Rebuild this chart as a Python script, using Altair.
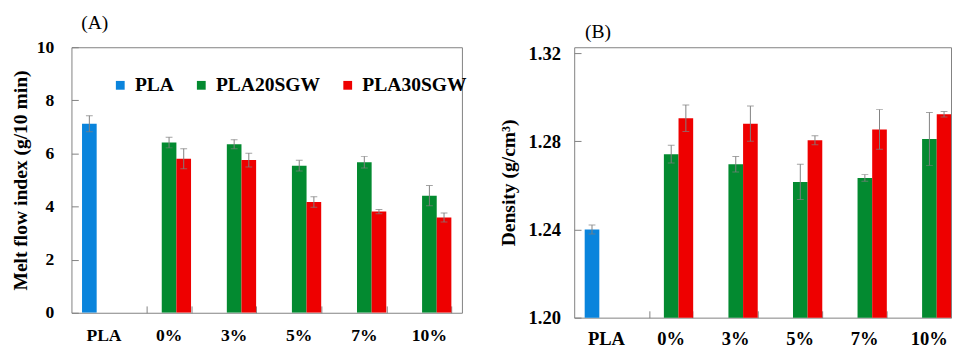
import altair as alt
import pandas as pd

categories = ["PLA", "0%", "3%", "5%", "7%", "10%"]
fillers = ["0%", "3%", "5%", "7%", "10%"]
series = ["PLA", "PLA20SGW", "PLA30SGW"]
colors = ["#0a84dc", "#038a30", "#ee0000"]

# (A) Melt flow index (g/10 min)
mfi_pla, mfi_pla_err = 7.12, 0.30
mfi_20 = [6.41, 6.35, 5.54, 5.67, 4.41]
mfi_20_err = [0.20, 0.17, 0.20, 0.22, 0.38]
mfi_30 = [5.80, 5.75, 4.17, 3.81, 3.59]
mfi_30_err = [0.38, 0.26, 0.20, 0.08, 0.17]

# (B) Density (g/cm3)
den_pla, den_pla_err = 1.2400, 0.0020
den_20 = [1.2742, 1.2696, 1.2616, 1.2634, 1.2811]
den_20_err = [0.0040, 0.0035, 0.0080, 0.0015, 0.0120]
den_30 = [1.2905, 1.2880, 1.2805, 1.2854, 1.2923]
den_30_err = [0.0060, 0.0080, 0.0020, 0.0090, 0.0012]

mfi_ticks = [0, 2, 4, 6, 8, 10]
den_ticks = [1.20, 1.24, 1.28, 1.32]
mfi_domain = [0, 10]
den_domain = [1.20, 1.3227]

FONT = "Liberation Serif"
GRAY = "#7f7f7f"


def build(pla, pla_err, v20, e20, v30, e30):
    rows = [{"cat": "PLA", "series": "PLA", "value": pla, "err": pla_err}]
    for c, v, e in zip(fillers, v20, e20):
        rows.append({"cat": c, "series": "PLA20SGW", "value": v, "err": e})
    for c, v, e in zip(fillers, v30, e30):
        rows.append({"cat": c, "series": "PLA30SGW", "value": v, "err": e})
    df = pd.DataFrame(rows)
    df["lo"] = df["value"] - df["err"]
    df["hi"] = df["value"] + df["err"]
    return df


def panel(df, title, ytitle, ydomain, yvalues, yfmt, w, h, label_size, xlabel_pad,
          ylabel_pad, ytitle_pad, leg_x, leg_y, title_dx, title_offset,
          pad_outer, align):
    xscale = alt.Scale(domain=categories, paddingInner=0.325,
                       paddingOuter=pad_outer, align=align)
    yscale = alt.Scale(domain=ydomain, zero=False, nice=False)
    off = alt.XOffset("series:N", scale=alt.Scale(domain=series, paddingInner=0, paddingOuter=0))
    base = alt.Chart(df)

    bars = base.mark_bar(clip=True).encode(
        x=alt.X("cat:N", scale=xscale, axis=alt.Axis(
            orient="bottom", title=None, ticks=False, domain=False, labelAngle=0,
            labelFont=FONT, labelFontWeight="bold", labelFontSize=label_size,
            labelColor="black", labelPadding=xlabel_pad)),
        xOffset=off,
        y=alt.Y("value:Q", scale=yscale, axis=alt.Axis(
            orient="left", values=yvalues, format=yfmt, ticks=False, domain=False,
            grid=False, title=ytitle, titleFont=FONT, titleFontSize=20,
            titleFontWeight="bold", titleColor="black", titlePadding=ytitle_pad,
            labelFont=FONT, labelFontWeight="bold", labelFontSize=label_size,
            labelColor="black", labelPadding=ylabel_pad)),
        color=alt.Color("series:N", scale=alt.Scale(domain=series, range=colors),
                        legend=alt.Legend(
                            orient="none", legendX=leg_x, legendY=leg_y,
                            direction="horizontal", title=None,
                            labelFont=FONT, labelFontWeight="bold", labelFontSize=20,
                            labelColor="black", labelOffset=5, labelLimit=300,
                            symbolType="square", symbolSize=81, symbolStrokeWidth=0,
                            symbolOpacity=1, columnPadding=18)),
    )

    rules = base.mark_rule(color=GRAY, strokeWidth=1, clip=True).encode(
        x=alt.X("cat:N", scale=xscale, axis=alt.Axis(
            orient="top", offset=-h, title=None, labels=False, domain=False,
            ticks=True, tickSize=7, tickColor=GRAY, tickBand="extent",
            values=categories[1:])),
        xOffset=off,
        y=alt.Y("lo:Q", scale=yscale, axis=alt.Axis(
            orient="right", offset=-w, title=None, labels=False, domain=False,
            grid=False, ticks=True, tickSize=7, tickColor=GRAY, values=yvalues)),
        y2="hi:Q",
    )
    cap_hi = base.mark_tick(color=GRAY, size=7, thickness=1, clip=True).encode(
        x=alt.X("cat:N", scale=xscale, axis=None), xOffset=off,
        y=alt.Y("hi:Q", scale=yscale, axis=None))
    cap_lo = base.mark_tick(color=GRAY, size=7, thickness=1, clip=True).encode(
        x=alt.X("cat:N", scale=xscale, axis=None), xOffset=off,
        y=alt.Y("lo:Q", scale=yscale, axis=None))

    return alt.layer(bars, rules, cap_hi, cap_lo).resolve_axis(
        x="independent", y="independent").properties(
        width=w, height=h,
        title=alt.Title(title, anchor="start", frame="group", dx=title_dx,
                        offset=title_offset, font=FONT, fontSize=20,
                        fontWeight="normal", color="black"))


df_a = build(mfi_pla, mfi_pla_err, mfi_20, mfi_20_err, mfi_30, mfi_30_err)
df_b = build(den_pla, den_pla_err, den_20, den_20_err, den_30, den_30_err)

chart_a = panel(df_a, "(A)", "Melt flow index (g/10 min)", mfi_domain, mfi_ticks, "d",
                400, 272, 18, 14, 18, 6, 40, 29, 10, 6, 0.1625, 0.5)
chart_b = panel(df_b, "(B)", "Density (g/cm³)", den_domain, den_ticks, ".2f",
                386, 277, 19, 12, 14, 10, 25, 23, 11, 3, 0.0812, 1)

chart = alt.hconcat(chart_a, chart_b, spacing=36).configure_view(
    stroke=GRAY, strokeWidth=1).properties(
    padding={"left": 2, "top": 0, "right": 0, "bottom": 0})

chart.save("out.html", embed_options={"renderer": "svg", "actions": False})
